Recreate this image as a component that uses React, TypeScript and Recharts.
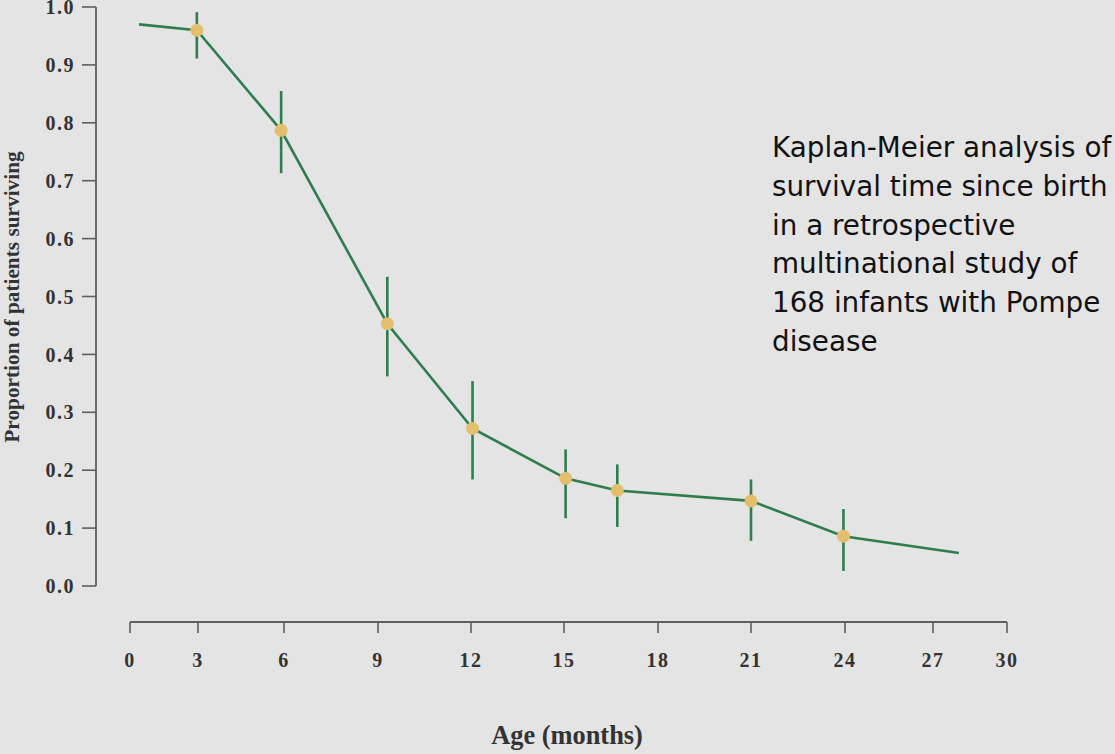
import {
  ComposedChart,
  Line,
  Scatter,
  ErrorBar,
  XAxis,
  YAxis,
  ReferenceLine,
} from "recharts";

// Kaplan-Meier curve: months since birth -> proportion surviving
const curveMonths = [0.4, 2.95, 5.9, 9.3, 12.05, 15.05, 16.7, 21.0, 23.95, 28.05];
const curveSurvival = [0.97, 0.96, 0.787, 0.453, 0.272, 0.186, 0.165, 0.147, 0.086, 0.057];

// marked time points and their confidence limits
const markerMonths = [2.95, 5.9, 9.3, 12.05, 15.05, 16.7, 21.0, 23.95];
const markerSurvival = [0.96, 0.787, 0.453, 0.272, 0.186, 0.165, 0.147, 0.086];
const ciLower = [0.911, 0.713, 0.362, 0.184, 0.117, 0.102, 0.078, 0.026];
const ciUpper = [0.991, 0.855, 0.534, 0.354, 0.236, 0.21, 0.184, 0.133];

const monthTicks = [0, 3, 6, 9, 12, 15, 18, 21, 24, 27, 30];
const survivalTicks = [0, 0.1, 0.2, 0.3, 0.4, 0.5, 0.6, 0.7, 0.8, 0.9, 1.0];

const NOTE_LINES = [
  "Kaplan-Meier analysis of",
  "survival time since birth",
  "in a retrospective",
  "multinational study of",
  "168 infants with Pompe",
  "disease",
];

// the month axis is hand-spaced: first and last intervals are compressed
const MONTH_STOPS = [0, 0.0775, 0.1756, 0.2828, 0.3888, 0.4949, 0.6021, 0.7081, 0.8153, 0.9156, 1];

const W = 1115;
const H = 754;
const MARGIN = { top: 7, right: 108, bottom: 92, left: 0 };
const Y_AXIS_W = 96;
const X_AXIS_H = 40;
const X_PAD = 34; // gap between y axis line and month 0
const Y_PAD = 36; // gap between survival 0 and x axis line

const BG = "#e4e4e4";
const GREEN = "#2f7d4d";
const GOLD = "#e3bf6d";
const AXIS = "#5e5e5e";
const TICK_TEXT = "#333";
const SERIF = "'Liberation Serif', 'Times New Roman', serif";

function interpolate(v: number, xs: number[], ys: number[]) {
  const n = xs.length;
  let i = 0;
  if (v >= xs[n - 1]) i = n - 2;
  else if (v > xs[0]) while (i < n - 2 && v > xs[i + 1]) i++;
  const t = (v - xs[i]) / (xs[i + 1] - xs[i]);
  return ys[i] + t * (ys[i + 1] - ys[i]);
}

// piecewise-linear scale that recharts can copy/domain/range like a d3 scale
function knotScale(knots: number[], stops: number[]) {
  const make = (dom: any[], rng: number[]) => {
    const s: any = (v: any) => {
      const f = interpolate(Number(v), knots, stops);
      return rng[0] + f * (rng[rng.length - 1] - rng[0]);
    };
    s.domain = (d?: any[]) => {
      if (d === undefined) return dom.slice();
      dom = [...d];
      return s;
    };
    s.range = (r?: number[]) => {
      if (r === undefined) return rng.slice();
      rng = [...r];
      return s;
    };
    s.copy = () => make(dom.slice(), rng.slice());
    s.ticks = () => knots.slice();
    s.tickFormat = () => (v: number) => String(v);
    s.invert = (px: number) =>
      interpolate((px - rng[0]) / (rng[rng.length - 1] - rng[0]), stops, knots);
    s.clamp = () => s;
    s.nice = () => s;
    return s;
  };
  return make([knots[0], knots[knots.length - 1]], [0, 1]);
}

const monthScale = knotScale(monthTicks, MONTH_STOPS);

const X_SPAN = W - MARGIN.right - (MARGIN.left + Y_AXIS_W + X_PAD);
const Y_SPAN = H - MARGIN.top - MARGIN.bottom - X_AXIS_H - Y_PAD;
// data positions of the two detached axis lines
const X_WALL = interpolate(-X_PAD / X_SPAN, MONTH_STOPS, monthTicks);
const Y_FLOOR = -Y_PAD / Y_SPAN;

const curve = curveMonths.map((month, i) => ({ month, survival: curveSurvival[i] }));
const markers = markerMonths.map((month, i) => ({
  month,
  survival: markerSurvival[i],
  ci: [markerSurvival[i] - ciLower[i], ciUpper[i] - markerSurvival[i]],
}));

const tickStyle = {
  fill: TICK_TEXT,
  fontSize: 20,
  fontFamily: SERIF,
  fontWeight: 700,
  letterSpacing: 1.5,
};

export default function App() {
  return (
    <div
      style={{
        position: "absolute",
        left: 0,
        top: 0,
        width: W,
        height: H,
        background: BG,
        overflow: "hidden",
      }}
    >
      <ComposedChart width={W} height={H} margin={MARGIN}>
        <XAxis
          type="number"
          dataKey="month"
          domain={[0, 30]}
          ticks={monthTicks}
          scale={monthScale}
          padding={{ left: X_PAD, right: 0 }}
          height={X_AXIS_H}
          axisLine={false}
          tickLine={{ stroke: AXIS, strokeWidth: 1.6 }}
          tickSize={11}
          tickMargin={20}
          tick={tickStyle}
          interval={0}
        />
        <YAxis
          type="number"
          domain={[0, 1]}
          ticks={survivalTicks}
          tickFormatter={(v: number) => v.toFixed(1)}
          padding={{ top: 0, bottom: Y_PAD }}
          width={Y_AXIS_W}
          axisLine={false}
          tickLine={{ stroke: AXIS, strokeWidth: 1.6 }}
          tickSize={14}
          tickMargin={7}
          tick={tickStyle}
          interval={0}
        />
        <ReferenceLine
          segment={[
            { x: 0, y: Y_FLOOR },
            { x: 30, y: Y_FLOOR },
          ]}
          stroke={AXIS}
          strokeWidth={1.8}
          ifOverflow="visible"
        />
        <ReferenceLine
          segment={[
            { x: X_WALL, y: 0 },
            { x: X_WALL, y: 1 },
          ]}
          stroke={AXIS}
          strokeWidth={1.8}
          ifOverflow="visible"
        />
        <Line
          data={curve}
          dataKey="survival"
          type="linear"
          stroke={GREEN}
          strokeWidth={2.6}
          dot={false}
          activeDot={false}
          isAnimationActive={false}
        />
        <Scatter
          data={markers}
          dataKey="survival"
          fill={GOLD}
          isAnimationActive={false}
          shape={(p: any) => <circle cx={p.cx} cy={p.cy} r={6.5} fill={GOLD} />}
        >
          <ErrorBar
            dataKey="ci"
            direction="y"
            width={0}
            stroke={GREEN}
            strokeWidth={2.6}
            isAnimationActive={false}
          />
        </Scatter>
      </ComposedChart>

      <div
        style={{
          position: "absolute",
          left: 13,
          top: 297,
          transform: "translate(-50%, -50%) rotate(-90deg)",
          whiteSpace: "nowrap",
          fontFamily: SERIF,
          fontWeight: 700,
          fontSize: 21.3,
          lineHeight: 1,
          color: TICK_TEXT,
        }}
      >
        Proportion of patients surviving
      </div>
      <div
        style={{
          position: "absolute",
          left: 567,
          top: 722,
          transform: "translateX(-50%)",
          whiteSpace: "nowrap",
          fontFamily: SERIF,
          fontWeight: 700,
          fontSize: 26.4,
          lineHeight: 1,
          color: TICK_TEXT,
        }}
      >
        Age (months)
      </div>
      <div
        style={{
          position: "absolute",
          left: 772,
          top: 129,
          whiteSpace: "nowrap",
          fontFamily: "'DejaVu Sans', Verdana, sans-serif",
          fontSize: 27.8,
          lineHeight: "38.75px",
          color: "#111",
        }}
      >
        {NOTE_LINES.map((line) => (
          <div key={line}>{line}</div>
        ))}
      </div>
    </div>
  );
}
